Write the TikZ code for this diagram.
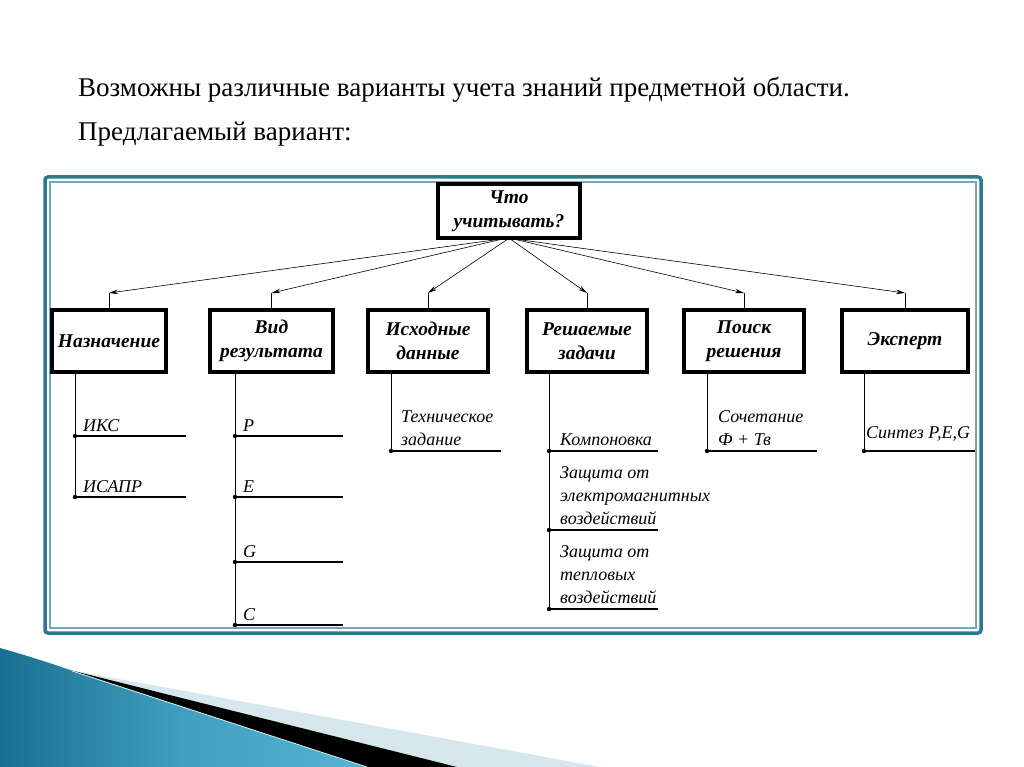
\documentclass[tikz,border=0pt]{standalone}
\usepackage{fontspec}
\setmainfont{Liberation Serif}
\usetikzlibrary{arrows.meta,calc}
\definecolor{frameteal}{HTML}{2B7A8C}
\definecolor{frameinner}{HTML}{6FA8B8}
\definecolor{decodark}{HTML}{17708F}
\definecolor{decolight}{HTML}{55B3D3}
\definecolor{decopale}{HTML}{D6E8EE}
\begin{document}
\begin{tikzpicture}[x=1pt,y=-1pt,
  box/.style={draw, line width=3.2pt, align=center, inner sep=0pt,
    font=\fontsize{19.5}{24.5}\selectfont\bfseries\itshape},
  conn/.style={-{Stealth[length=9pt,width=4.5pt]}, line width=0.6pt},
  stub/.style={line width=0.8pt},
  trunk/.style={line width=0.9pt},
  leafline/.style={line width=1.1pt},
  leaftext/.style={anchor=south west, align=left, inner sep=0pt,
    font=\fontsize{18}{23}\selectfont\itshape},
  dot/.style={circle, fill=black, inner sep=0pt, minimum size=4.4pt},
  title/.style={anchor=base west, inner sep=0pt, font=\fontsize{27}{32}\selectfont}
]
\useasboundingbox (0,0) rectangle (1024,767);
\fill[white] (0,0) rectangle (1024,767);

% titles
\node[title] (t1) at (78,97) {Возможны различные варианты учета знаний предметной области.};
\node[title] (t2) at (78,141) {Предлагаемый вариант:};

% frame
\draw[frameteal, line width=3.5pt, rounded corners=3pt] (45,177) rectangle (981,633);
\draw[frameinner, line width=1.2pt] (50,182) rectangle (976,628);

% top node
\node[box, minimum width=142pt, minimum height=54pt] (top) at (509,211) {Что\\учитывать?};

% second row
\node[box, minimum width=114pt, minimum height=62pt] (b1) at (109,341) {Назначение};
\node[box, minimum width=123pt, minimum height=62pt] (b2) at (271.5,341) {Вид\\результата};
\node[box, minimum width=120pt, minimum height=62pt] (b3) at (428,341) {Исходные\\данные};
\node[box, minimum width=120pt, minimum height=62pt] (b4) at (587,341) {Решаемые\\задачи};
\node[box, minimum width=120pt, minimum height=62pt] (b5) at (744,341) {Поиск\\решения};
\node[box, minimum width=126pt, minimum height=62pt] (b6) at (905,341) {Эксперт};

% arrow tips
\coordinate (a1) at (109,293);
\coordinate (a2) at (271.5,293);
\coordinate (a3) at (428,293);
\coordinate (a4) at (587,293);
\coordinate (a5) at (744,293);
\coordinate (a6) at (905,293);

\draw[conn] ($(top.south)+(-12,0)$) -- (a1);
\draw[conn] ($(top.south)+(-9,0)$) -- (a2);
\draw[conn] ($(top.south)+(-2,0)$) -- (a3);
\draw[conn] ($(top.south)+(2,0)$) -- (a4);
\draw[conn] ($(top.south)+(7,0)$) -- (a5);
\draw[conn] ($(top.south)+(10,0)$) -- (a6);
\foreach \i in {1,...,6} { \draw[stub] (a\i) -- (b\i.north); }

% leaves: Назначение
\coordinate (r1) at (75,372);
\node[dot] (n1) at (75,436) {};
\node[dot] (n2) at (75,497) {};
\coordinate (n1e) at (186,436);
\coordinate (n2e) at (186,497);
\draw[trunk] (r1) -- (n2);
\draw[leafline] (n1) -- (n1e);
\draw[leafline] (n2) -- (n2e);
\node[leaftext] (l1) at (83,432) {ИКС};
\node[leaftext] (l2) at (83,493) {ИСАПР};

% leaves: Вид результата
\coordinate (r2) at (235,372);
\node[dot] (v1) at (235,436) {};
\node[dot] (v2) at (235,497) {};
\node[dot] (v3) at (235,562) {};
\node[dot] (v4) at (235,625) {};
\coordinate (v1e) at (343,436);
\coordinate (v2e) at (343,497);
\coordinate (v3e) at (343,562);
\coordinate (v4e) at (343,625);
\draw[trunk] (r2) -- (v4);
\foreach \i in {1,...,4} { \draw[leafline] (v\i) -- (v\i e); }
\node[leaftext] (lv1) at (243,432) {P};
\node[leaftext] (lv2) at (243,493) {E};
\node[leaftext] (lv3) at (243,558) {G};
\node[leaftext] (lv4) at (243,621) {C};

% leaves: Исходные данные
\coordinate (r3) at (391,372);
\node[dot] (i1) at (391,451) {};
\coordinate (i1e) at (501,451);
\draw[trunk] (r3) -- (i1);
\draw[leafline] (i1) -- (i1e);
\node[leaftext] (li1) at (401,446) {Техническое\\задание};

% leaves: Решаемые задачи
\coordinate (r4) at (549,372);
\node[dot] (z1) at (549,451) {};
\node[dot] (z2) at (549,530) {};
\node[dot] (z3) at (549,609) {};
\coordinate (z1e) at (658,451);
\coordinate (z2e) at (658,530);
\coordinate (z3e) at (658,609);
\draw[trunk] (r4) -- (z3);
\foreach \i in {1,2,3} { \draw[leafline] (z\i) -- (z\i e); }
\node[leaftext] (lz1) at (560,446) {Компоновка};
\node[leaftext] (lz2) at (560,525) {Защита от\\электромагнитных\\воздействий};
\node[leaftext] (lz3) at (560,604) {Защита от\\тепловых\\воздействий};

% leaves: Поиск решения
\coordinate (r5) at (707,372);
\node[dot] (p1) at (707,451) {};
\coordinate (p1e) at (817,451);
\draw[trunk] (r5) -- (p1);
\draw[leafline] (p1) -- (p1e);
\node[leaftext] (lp1) at (718,446) {Сочетание\\Ф + Тв};

% leaves: Эксперт
\coordinate (r6) at (864,372);
\node[dot] (e1) at (864,451) {};
\coordinate (e1e) at (975,451);
\draw[trunk] (r6) -- (e1);
\draw[leafline] (e1) -- (e1e);
\node[leaftext] (le1) at (866,441) {Синтез P,E,G};

% decoration bottom-left
\fill[decopale] (70,670) -- (600,767) -- (457,767) -- cycle;
\fill[black] (70,670) -- (457,767) -- (367,767) -- cycle;
\shade[left color=decodark, right color=decolight, middle color=decolight!70!decodark]
  (0,648) .. controls (25,655) and (50,663) .. (70,670) -- (367,767) -- (0,767) -- cycle;
\draw[decopale, line width=0.8pt] (72,671) -- (367,767);
\end{tikzpicture}
\end{document}
